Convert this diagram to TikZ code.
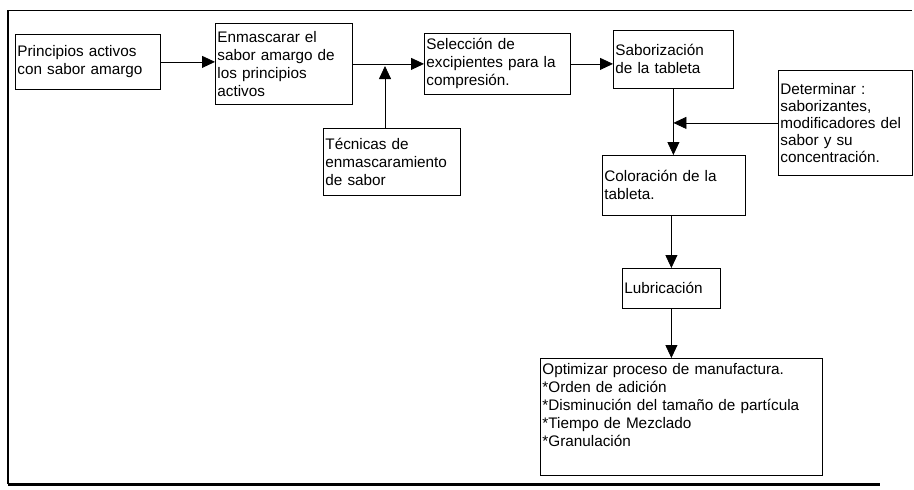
\documentclass[tikz,border=0pt]{standalone}
\usepackage{fontspec}
\setmainfont{Liberation Sans}
\usepackage{tikz}
\usetikzlibrary{arrows.meta}

\begin{document}
\begin{tikzpicture}[x=1pt,y=-1pt,
	box/.style={draw, line width=0.8, anchor=north west, align=left,
		inner xsep=2pt, inner ysep=0pt, font=\fontsize{15.3}{18}\selectfont},
	arr/.style={line width=0.8, -{Triangle[length=13pt,width=12pt]}}]

\useasboundingbox (0,0) rectangle (914,490);

% frame
\draw[line width=0.8] (8,10)--(912,10);
\draw[line width=1.4] (8,10)--(8,484);
\draw[line width=3] (8,484)--(880,484);

% boxes
\node[box, text width=141pt, minimum height=55pt] (act) at (15,34)
	{Principios activos\\con sabor amargo};
\node[box, text width=133pt, minimum height=81pt] (enm) at (215,23)
	{Enmascarar el\\sabor amargo de\\los principios\\activos};
\node[box, text width=142pt, minimum height=61pt] (sel) at (424,33)
	{Selección de\\excipientes para la\\compresión.};
\node[box, text width=116pt, minimum height=58pt] (sab) at (613,30)
	{Saborización\\de la tableta};
\node[box, text width=130pt, minimum height=105pt, font=\fontsize{15.3}{17}\selectfont] (det) at (778,70)
	{Determinar :\\saborizantes,\\modificadores del\\sabor y su\\concentración.};
\node[box, text width=133pt, minimum height=67pt] (tec) at (323,128)
	{Técnicas de\\enmascaramiento\\de sabor};
\node[box, text width=139pt, minimum height=60pt] (col) at (602,155)
	{Coloración de la\\tableta.};
\node[box, text width=94pt, minimum height=40pt] (lub) at (622,268)
	{Lubricación};
\node[box, text width=278pt, minimum height=117pt] (opt) at (540,358)
	{Optimizar proceso de manufactura.\\{}*Orden de adición\\{}*Disminución del tamaño de partícula\\{}*Tiempo de Mezclado\\{}*Granulación\\[6pt]\mbox{}};

% arrows
\coordinate (tip) at (385,66);
\draw[arr] (act.east)--(act.east -| enm.west);
\draw[arr] (enm.east)--(enm.east -| sel.west);
\draw[arr] (tip |- tec.north)--(tip);
\draw[arr] (sel.east)--(sel.east -| sab.west);
\draw[arr] (sab.south)--(sab.south |- col.north);
\draw[arr] (det.west)--(det.west -| sab.south);
\draw[arr] (lub.north |- col.south)--(lub.north);
\draw[arr] (lub.south)--(lub.south |- opt.north);

\end{tikzpicture}
\end{document}
